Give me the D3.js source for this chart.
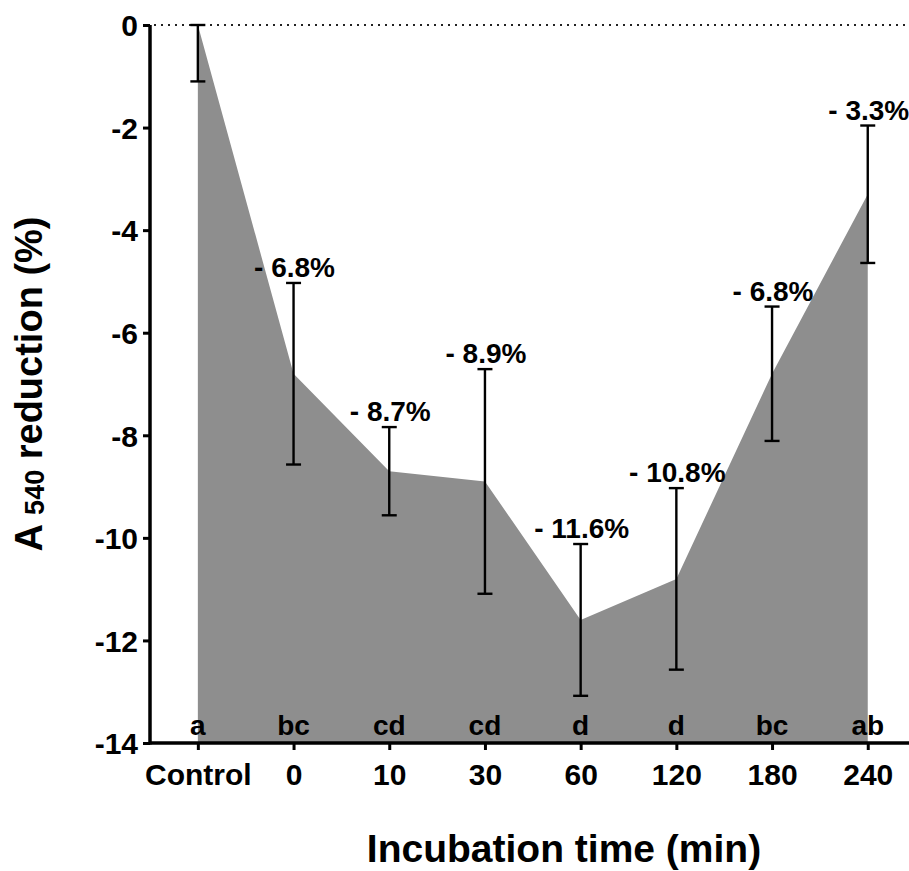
<!DOCTYPE html>
<html>
<head>
<meta charset="utf-8">
<script src="https://cdn.jsdelivr.net/npm/d3@7"></script>
<style>
  html, body { margin: 0; padding: 0; background: #fff; }
  svg text { font-family: 'Liberation Sans', Arial, Helvetica, sans-serif; font-weight: bold; fill: #000; }
</style>
</head>
<body>
<div id="chart"></div>
<script>
const CATEGORIES = ['Control', '0', '10', '30', '60', '120', '180', '240'],
      MEANS = [0, -6.8, -8.7, -8.9, -11.6, -10.8, -6.8, -3.3],
      SDS = [1.1, 1.77, 0.86, 2.19, 1.48, 1.77, 1.31, 1.34],
      VALUE_LABELS = ['', '- 6.8%', '- 8.7%', '- 8.9%', '- 11.6%', '- 10.8%', '- 6.8%', '- 3.3%'],
      GROUP_LETTERS = ['a', 'bc', 'cd', 'cd', 'd', 'd', 'bc', 'ab'],
      Y_TICKS = [0, -2, -4, -6, -8, -10, -12, -14]

const SIZE = Object.freeze({ WIDTH: 909, HEIGHT: 871 }),
      PLOT = Object.freeze({ LEFT: 150, RIGHT: 915.6, TOP: 25, BOTTOM: 743 }),
      AREA_FILL = '#8e8e8e',
      CAP = 7.5

const dataset = CATEGORIES.map((c, i) => ({
  cat: c,
  mean: MEANS[i],
  sd: SDS[i],
  label: VALUE_LABELS[i],
  letter: GROUP_LETTERS[i]
}))

const xScale = d3.scalePoint()
        .domain(CATEGORIES)
        .range([PLOT.LEFT, PLOT.RIGHT])
        .padding(0.5),
      yScale = d3.scaleLinear()
        .domain([-14, 0])
        .range([PLOT.BOTTOM, PLOT.TOP])

const svg = d3.select('#chart')
  .append('svg')
  .attr('width', SIZE.WIDTH)
  .attr('height', SIZE.HEIGHT)

// filled area down to the axis
const area = d3.area()
  .x(d => xScale(d.cat))
  .y0(yScale(-14))
  .y1(d => yScale(d.mean))

svg.append('path')
  .datum(dataset)
  .attr('d', area)
  .attr('fill', AREA_FILL)

// dotted zero line
svg.append('line')
  .attr('x1', PLOT.LEFT + 4)
  .attr('x2', SIZE.WIDTH)
  .attr('y1', yScale(0))
  .attr('y2', yScale(0))
  .attr('stroke', '#222')
  .attr('stroke-width', 2.2)
  .attr('stroke-dasharray', '2,5')

// error bars
const bars = svg.append('g').attr('class', 'errors')
dataset.forEach(d => {
  const x = xScale(d.cat),
        top = yScale(Math.min(0, d.mean + d.sd)),
        bottom = yScale(d.mean - d.sd)
  bars.append('line')
    .attr('x1', x).attr('x2', x)
    .attr('y1', top).attr('y2', bottom)
  ;[top, bottom].forEach(y => {
    bars.append('line')
      .attr('x1', x - CAP).attr('x2', x + CAP)
      .attr('y1', y).attr('y2', y)
  })
})
bars.selectAll('line')
  .attr('stroke', '#000')
  .attr('stroke-width', 2.4)

// value labels over the upper caps
svg.selectAll('text.value')
  .data(dataset.filter(d => d.label))
  .enter()
  .append('text')
  .attr('class', 'value')
  .attr('x', d => xScale(d.cat) + 1)
  .attr('y', d => yScale(d.mean + d.sd) - 6)
  .attr('text-anchor', 'middle')
  .style('font-size', '28px')
  .text(d => d.label)

// group letters just above the x axis
svg.selectAll('text.letter')
  .data(dataset)
  .enter()
  .append('text')
  .attr('class', 'letter')
  .attr('x', d => xScale(d.cat))
  .attr('y', PLOT.BOTTOM - 8)
  .attr('text-anchor', 'middle')
  .style('font-size', '28px')
  .text(d => d.letter)

const xAxis = d3.axisBottom(xScale)
        .tickSize(7)
        .tickPadding(14),
      yAxis = d3.axisLeft(yScale)
        .tickValues(Y_TICKS)
        .tickFormat(d => String(d))
        .tickSize(7)
        .tickPadding(5)

const gx = svg.append('g')
  .attr('id', 'x-axis')
  .attr('transform', `translate(0, ${PLOT.BOTTOM})`)
  .call(xAxis)

const gy = svg.append('g')
  .attr('id', 'y-axis')
  .attr('transform', `translate(${PLOT.LEFT}, 0)`)
  .call(yAxis)

;[gx, gy].forEach(g => {
  g.select('.domain')
    .attr('stroke', '#000')
    .attr('stroke-width', 3.5)
  g.selectAll('.tick line')
    .attr('stroke', '#000')
    .attr('stroke-width', 3)
  g.selectAll('.tick text')
    .style('font-size', '30px')
    .style('font-family', "'Liberation Sans', Arial, sans-serif")
    .style('font-weight', 'bold')
    .attr('fill', '#000')
})
gx.select('.domain').attr('d', `M${PLOT.LEFT},0H${SIZE.WIDTH}`)
gy.select('.domain').attr('d', `M0,${PLOT.TOP}V${PLOT.BOTTOM + 1.5}`)
gy.selectAll('.tick text').attr('dy', '0.36em')

// axis titles
svg.append('text')
  .attr('x', 564)
  .attr('y', 862)
  .attr('text-anchor', 'middle')
  .style('font-size', '39px')
  .text('Incubation time (min)')

const yTitle = svg.append('text')
  .attr('transform', 'translate(42, 384) rotate(-90)')
  .attr('text-anchor', 'middle')
  .style('font-size', '38px')
yTitle.append('tspan').text('A ')
yTitle.append('tspan').style('font-size', '27px').attr('dy', 2).text('540')
yTitle.append('tspan').attr('dy', -2).text('  reduction (%)')
</script>
</body>
</html>
